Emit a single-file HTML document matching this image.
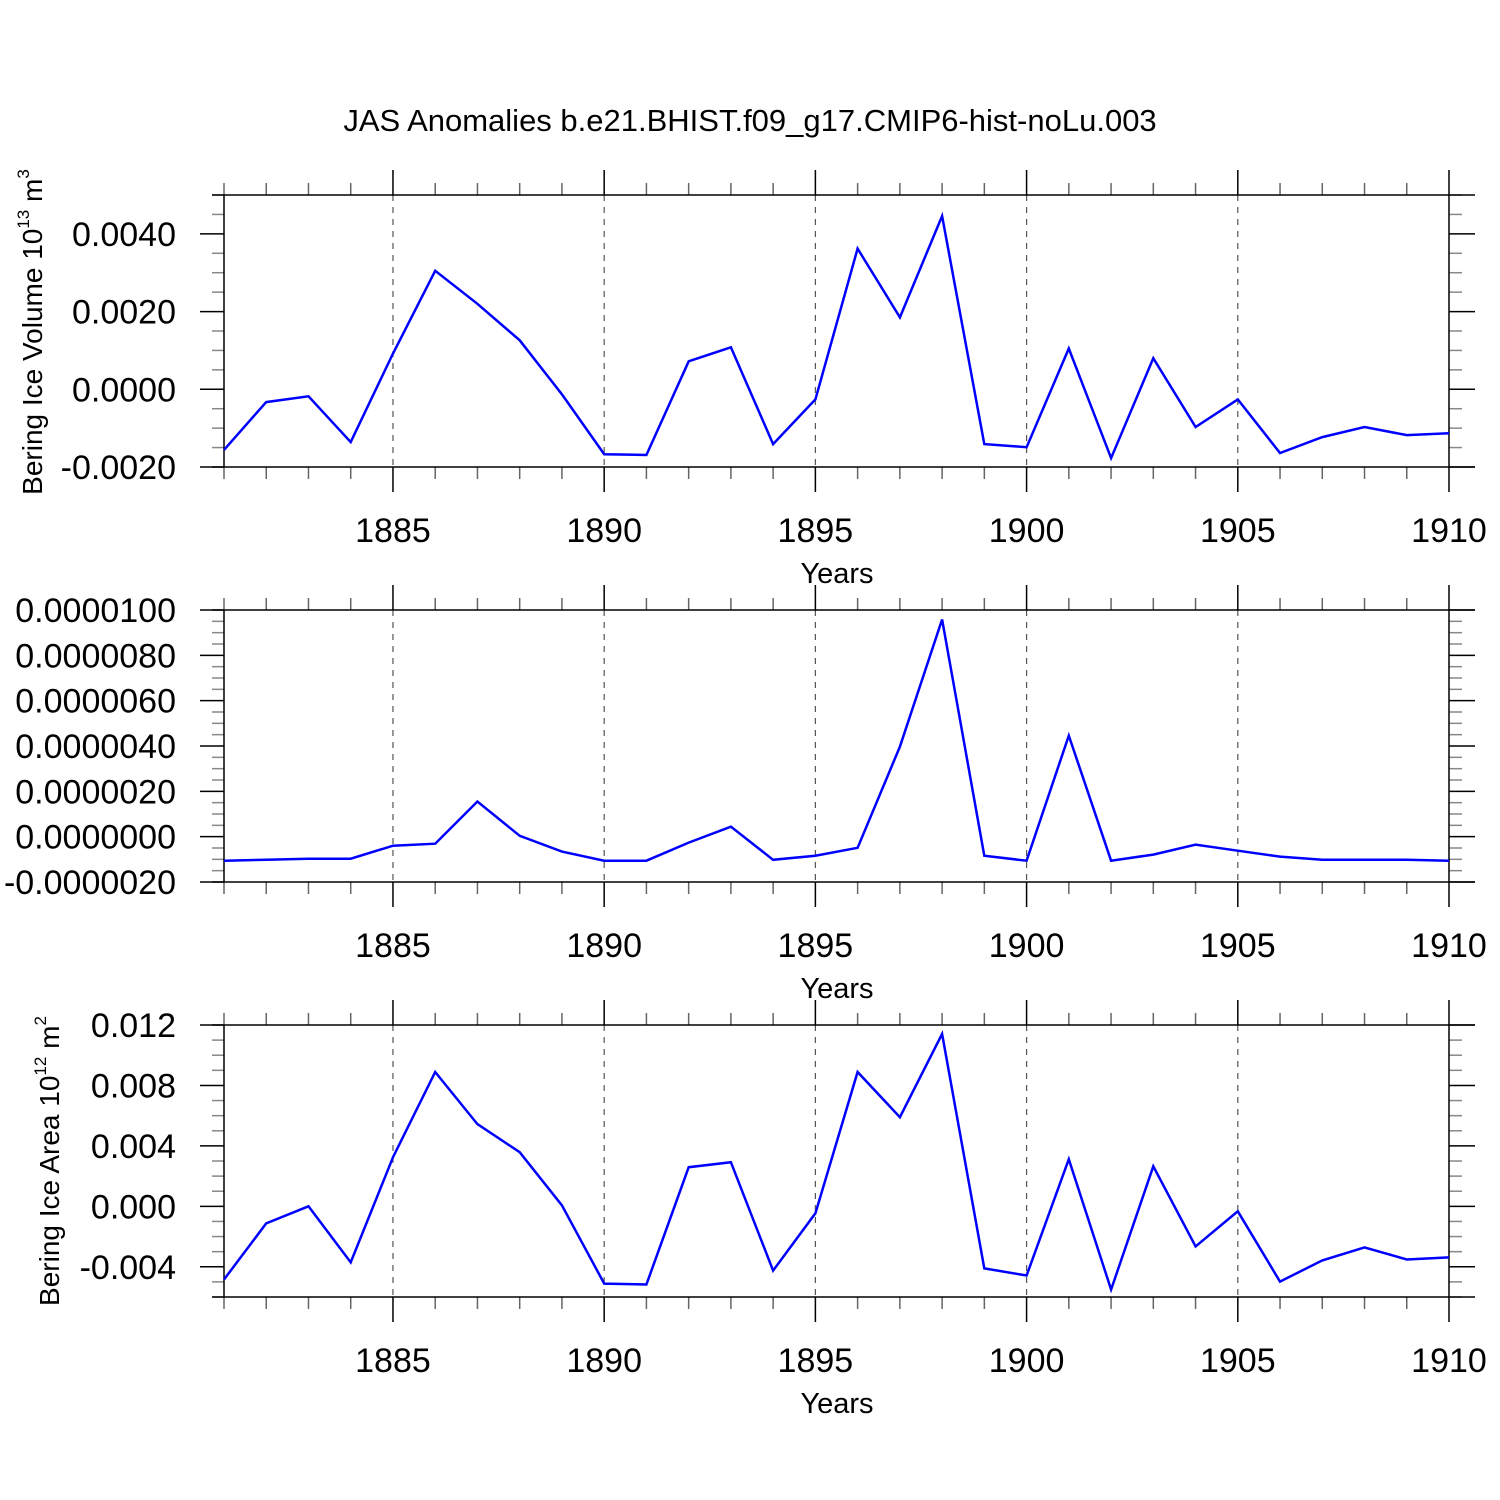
<!DOCTYPE html>
<html><head><meta charset="utf-8">
<style>body{margin:0;background:#fff}svg{display:block}text{font-family:"Liberation Sans",sans-serif;fill:#000}</style>
</head><body>
<svg id="c" width="1500" height="1500" viewBox="0 0 1500 1500" xmlns="http://www.w3.org/2000/svg">
<text x="750" y="131" font-size="31" text-anchor="middle">JAS Anomalies b.e21.BHIST.f09_g17.CMIP6-hist-noLu.003</text>
<text transform="translate(42,332) rotate(-90)" font-size="28" text-anchor="middle">Bering Ice Volume 10<tspan font-size="17" dy="-13">13</tspan><tspan dy="13"> m</tspan><tspan font-size="17" dy="-13">3</tspan></text>
<text transform="translate(59,1161) rotate(-90)" font-size="28" text-anchor="middle">Bering Ice Area 10<tspan font-size="17" dy="-13">12</tspan><tspan dy="13"> m</tspan><tspan font-size="17" dy="-13">2</tspan></text>
<g id="plots"></g>
</svg>
<script>
const years = [1881,1882,1883,1884,1885,1886,1887,1888,1889,1890,1891,1892,1893,1894,1895,1896,1897,1898,1899,1900,1901,1902,1903,1904,1905,1906,1907,1908,1909,1910];
const volume = [-0.00156,-0.00033,-0.00018,-0.00136,0.00092,0.00305,0.0022,0.00126,-0.00013,-0.00167,-0.00169,0.00072,0.00108,-0.00141,-0.00026,0.00362,0.00185,0.00446,-0.00141,-0.00149,0.00105,-0.00177,0.0008,-0.00097,-0.00026,-0.00164,-0.00123,-0.00097,-0.00118,-0.00113];
const middle = [-1.06e-6,-1.02e-6,-0.97e-6,-0.97e-6,-0.40e-6,-0.31e-6,1.55e-6,0.04e-6,-0.66e-6,-1.06e-6,-1.06e-6,-0.26e-6,0.44e-6,-1.02e-6,-0.84e-6,-0.49e-6,3.97e-6,9.58e-6,-0.84e-6,-1.06e-6,4.46e-6,-1.06e-6,-0.79e-6,-0.35e-6,-0.62e-6,-0.88e-6,-1.02e-6,-1.02e-6,-1.02e-6,-1.06e-6];
const area = [-0.00484,-0.00113,0,-0.00371,0.00325,0.00889,0.00544,0.00358,0.00007,-0.00511,-0.00517,0.00259,0.00292,-0.00425,-0.00046,0.00889,0.0059,0.01141,-0.00411,-0.00458,0.00312,-0.00551,0.00265,-0.00265,-0.00033,-0.00498,-0.00358,-0.00272,-0.00352,-0.00338];
const xTickLabels = ["1885","1890","1895","1900","1905","1910"];
const volTicks = ["0.0040","0.0020","0.0000","-0.0020"];
const midTicks = ["0.0000100","0.0000080","0.0000060","0.0000040","0.0000020","0.0000000","-0.0000020"];
const areaTicks = ["0.012","0.008","0.004","0.000","-0.004"];

const NS="http://www.w3.org/2000/svg";
const g=document.getElementById('plots');
function el(t,a,p){const e=document.createElementNS(NS,t);for(const k in a)e.setAttribute(k,a[k]);(p||g).appendChild(e);return e;}
const X0=224,X1=1449,Y0=1881,Y1=1910;
const xs=y=>X0+(y-Y0)/(Y1-Y0)*(X1-X0);

function panel(name,top,bot,ymin,ymax,major,minor,ticks,data){
  const grp=el('g',{});
  
  
  const ys=v=>bot-(v-ymin)/(ymax-ymin)*(bot-top);
  const ln=(x1,y1,x2,y2,w,c,extra)=>el('line',Object.assign({x1,y1,x2,y2,stroke:c||'#000','stroke-width':w||1.5},extra||{}),grp);
  for(let y=1885;y<=1905;y+=5) ln(xs(y),top,xs(y),bot,1.2,'#555',{'stroke-dasharray':'6,6'});
  for(let y=Y0;y<=Y1;y++){const x=xs(y);const maj=(y%5===0);
    ln(x,top,x,top-(maj?25:12),1.5,maj?'#000':'#666');
    ln(x,bot,x,bot+(maj?25:12),1.5,maj?'#000':'#666');}
  const nmin=Math.round((ymax-ymin)/minor);
  for(let i=0;i<=nmin;i++){const v=ymin+i*minor;const y=ys(v);
    const maj=Math.abs(v/major-Math.round(v/major))<1e-6;
    ln(X0,y,X0-(maj?24:12),y,1.5,maj?'#000':'#888');
    ln(X1,y,X1+(maj?26:13),y,1.5,maj?'#000':'#888');}
  ln(212,top,1475,top,1.5,'#000');ln(212,bot,1475,bot,1.5,'#000');
  ln(X0,top,X0,bot,1.5,'#000');ln(X1,top,X1,bot,1.5,'#000');
  ticks.forEach(t=>{const v=parseFloat(t);const tx=el('text',{x:176,y:ys(v)+12,'font-size':34,'text-anchor':'end'},grp);tx.textContent=t;
    
    });
  xTickLabels.forEach(t=>{const tx=el('text',{x:xs(+t),y:bot+75,'font-size':34,'text-anchor':'middle'},grp);tx.textContent=t;
    
    });
  const xt=el('text',{x:837,y:bot+116,'font-size':29,'text-anchor':'middle'},grp);xt.textContent='Years';
  
  
  const pts=years.map((y,i)=>xs(y).toFixed(1)+','+ys(data[i]).toFixed(1)).join(' ');
  const pl=el('polyline',{points:pts,fill:'none',stroke:'#0000ff','stroke-width':2.5,'stroke-linejoin':'miter'},grp);
  
  
}
panel('volume',195,467,-0.002,0.005,0.002,0.0005,volTicks,volume);
panel('middle',610,882,-2e-6,1e-5,2e-6,5e-7,midTicks,middle);
panel('area',1025,1297,-0.006,0.012,0.004,0.001,areaTicks,area);
</script>
</body></html>
